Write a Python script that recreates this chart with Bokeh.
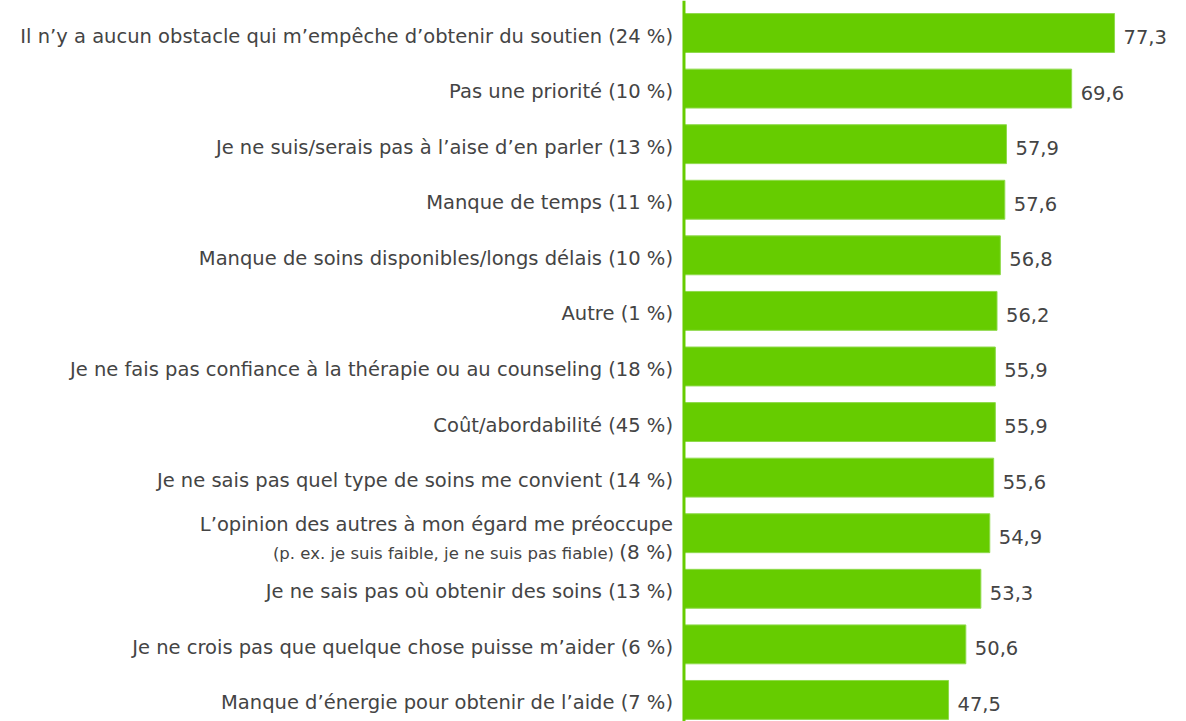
from bokeh.plotting import figure
from bokeh.models import Range1d, Span, ColumnDataSource
from bokeh.core.properties import value
from bokeh.embed import file_html
from bokeh.resources import INLINE

labels = [
    "Il n’y a aucun obstacle qui m’empêche d’obtenir du soutien (24 %)",
    "Pas une priorité (10 %)",
    "Je ne suis/serais pas à l’aise d’en parler (13 %)",
    "Manque de temps (11 %)",
    "Manque de soins disponibles/longs délais (10 %)",
    "Autre (1 %)",
    "Je ne fais pas confiance à la thérapie ou au counseling (18 %)",
    "Coût/abordabilité (45 %)",
    "Je ne sais pas quel type de soins me convient (14 %)",
    "",
    "Je ne sais pas où obtenir des soins (13 %)",
    "Je ne crois pas que quelque chose puisse m’aider (6 %)",
    "Manque d’énergie pour obtenir de l’aide (7 %)",
]
values = [77.3, 69.6, 57.9, 57.6, 56.8, 56.2, 55.9, 55.9, 55.6, 54.9, 53.3, 50.6, 47.5]
value_text = ["77,3", "69,6", "57,9", "57,6", "56,8", "56,2", "55,9", "55,9", "55,6", "54,9", "53,3", "50,6", "47,5"]
two_line_first = "L’opinion des autres à mon égard me préoccupe"
two_line_small = "(p. ex. je suis faible, je ne suis pas fiable)"
two_line_pct = "(8 %)"
two_line_index = 9

GREEN = "#66cc00"
TEXT = "#444444"
FONT = "DejaVu Sans"

pos = list(range(len(values)))
src = ColumnDataSource(dict(y=pos, v=values, vt=value_text, lab=labels))

p = figure(width=1186, height=721, output_backend="svg", toolbar_location=None,
           x_range=Range1d(-122.71, 90.22), y_range=Range1d(12.388, -0.585),
           min_border=0, min_border_left=0, min_border_right=0, min_border_top=0, min_border_bottom=0)
p.axis.visible = False
p.grid.visible = False
p.outline_line_color = None
p.background_fill_color = "white"

p.hbar(y="y", right="v", left=0, height=0.70, source=src,
       fill_color=GREEN, line_color="#8fda4c", line_width=1)

p.add_layout(Span(location=0, dimension="height", line_color=GREEN, line_width=3))

p.text(x=0, y="y", text="lab", source=src, x_offset=-11, y_offset=3,
       text_align="right", text_baseline="middle", text_color=TEXT,
       text_font=value(FONT), text_font_size="19.5px")
p.text(x="v", y="y", text="vt", source=src, x_offset=9, y_offset=4,
       text_align="left", text_baseline="middle", text_color=TEXT,
       text_font=value(FONT), text_font_size="19.5px")

# two-line label
p.text(x=[0], y=[two_line_index], text=[two_line_first], x_offset=-11, y_offset=-9,
       text_align="right", text_baseline="middle", text_color=TEXT,
       text_font=value(FONT), text_font_size="19.5px")
p.text(x=[0], y=[two_line_index], text=[two_line_pct], x_offset=-11, y_offset=19,
       text_align="right", text_baseline="middle", text_color=TEXT,
       text_font=value(FONT), text_font_size="20px")
p.text(x=[0], y=[two_line_index], text=[two_line_small], x_offset=-70, y_offset=20,
       text_align="right", text_baseline="middle", text_color=TEXT,
       text_font=value(FONT), text_font_size="16.5px")

open("out.html", "w").write(file_html(p, INLINE))
